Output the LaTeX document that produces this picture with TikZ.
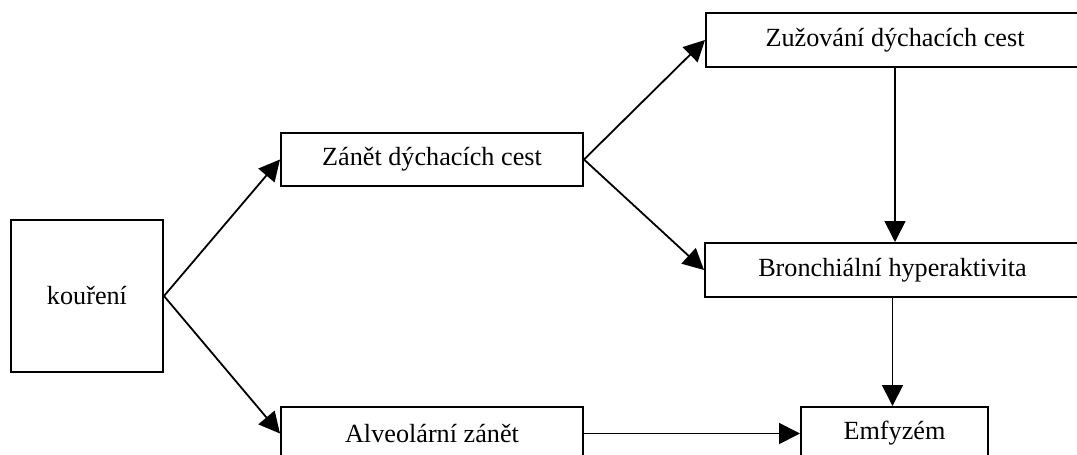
\documentclass[tikz,border=0pt]{standalone}
\usepackage{fontspec}
\setmainfont{Liberation Serif}
\usetikzlibrary{arrows.meta,positioning}

\begin{document}
\begin{tikzpicture}[x=0.5pt, y=-0.5pt, >={Triangle[length=10.5pt,width=10.5pt]},
  box/.style={draw, line width=1pt, inner sep=0pt, font=\fontsize{13.1}{15}\selectfont},
  link/.style={->, line width=0.9pt}]
  \useasboundingbox (0,0) rectangle (1077,455);
  % cause on the left
  \node[box, minimum width=76pt, minimum height=76pt] (koureni) at (87,296) {kouření};
  % middle column
  \node[box, minimum width=151pt, minimum height=26.5pt] (zanet) at (432,159.5) {Zánět dýchacích cest};
  \node[box, minimum width=151pt, minimum height=26.5pt] (alveol) at (432,433.5) {Alveolární zánět};
  % right column (boxes run past the right edge)
  \node[box, minimum width=189pt, minimum height=27pt] (zuzovani) at (895,40) {Zužování dýchacích cest};
  \node[box, minimum width=187.5pt, minimum height=27pt] (bronch) at (892.5,270) {Bronchiální hyperaktivita};
  \node[box, minimum width=93.5pt, minimum height=26.5pt] (emfyzem) at (894.5,433.5) {Emfyzém};
  % arrows
  \draw[link] (koureni.east) -- (zanet.west);
  \draw[link] (koureni.east) -- (alveol.west);
  \draw[link] (zanet.east) -- (zuzovani.west);
  \draw[link] (zanet.east) -- (bronch.west);
  \draw[link] (zuzovani.south) -- (zuzovani.south |- bronch.north);
  \draw[link] (bronch.south) -- (bronch.south |- emfyzem.north);
  \draw[link] (alveol.east) -- (emfyzem.west);
\end{tikzpicture}
\end{document}
